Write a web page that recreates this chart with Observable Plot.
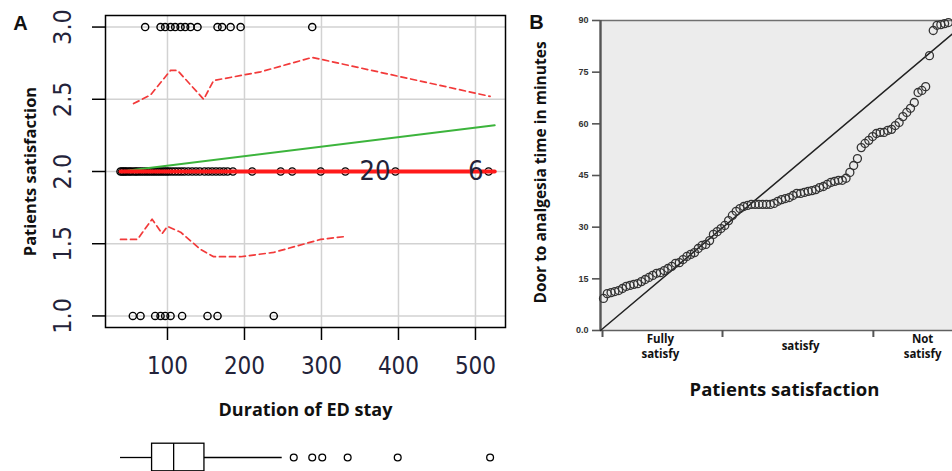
<!DOCTYPE html>
<html>
<head>
<meta charset="utf-8">
<script src="https://cdn.jsdelivr.net/npm/d3@7"></script>
<script src="https://cdn.jsdelivr.net/npm/@observablehq/plot@0.6"></script>
<style>
  html, body { margin: 0; padding: 0; background: #fff; }
  #wrap { position: relative; width: 952px; height: 471px; overflow: hidden; background: #fff; }
  #wrap > svg { position: absolute; overflow: visible; }
</style>
</head>
<body>
<div id="wrap"></div>
<script>
// ---------- Panel A data ----------
const xTicksA = [100, 200, 300, 400, 500];
const yTicksA = [1.0, 1.5, 2.0, 2.5, 3.0];
// Duration of ED stay (minutes) for each satisfaction level
const staySat3 = [71, 91, 97, 104, 110, 117, 123, 130, 139, 165, 171, 182, 195, 288];
const staySat2 = [39, 41, 43, 45, 47, 50, 52, 55, 58, 60, 63, 66, 69, 72, 75, 78, 81, 84, 87, 90, 93, 96, 99, 102, 106, 110, 114, 118, 122, 127, 132, 137, 142, 148, 153, 158, 163, 168, 173, 178, 185, 210, 247, 262, 299, 331, 396, 517];
const staySat1 = [55, 65, 84, 91, 97, 104, 119, 152, 165, 238];
// fitted lines
const linearFitX = [39, 525];
const linearFitY = [2.0, 2.32];
const smoothX = [39, 525];
const smoothY = [2.0, 2.0];
const upperBandX = [56, 78, 104, 113, 147, 160, 221, 288, 519];
const upperBandY = [2.47, 2.53, 2.70, 2.70, 2.50, 2.63, 2.69, 2.79, 2.52];
const lowerBandX = [39, 61, 80, 93, 100, 117, 143, 160, 195, 238, 299, 331];
const lowerBandY = [1.53, 1.53, 1.67, 1.57, 1.62, 1.58, 1.46, 1.41, 1.41, 1.44, 1.53, 1.55];
// identified points
const idLabels = ["20", "6"];
const idStay = [396, 517];
const idSat = [2, 2];
// boxplot of duration
const boxStats = {min: 39, q1: 80, median: 108, q3: 148, max: 249};
const boxOutliers = [264, 288, 301, 334, 399, 519];

// ---------- Panel B data ----------
const yTicksB = [0, 15, 30, 45, 60, 75, 90];
const doorToAnalgesia = [9.3, 10.7, 11.0, 11.3, 11.6, 12.2, 12.8, 13.1, 13.4, 13.6,
  14.2, 14.8, 15.4, 16.0, 16.6, 16.8, 17.4, 18.0, 18.6, 19.5,
  19.7, 20.6, 21.5, 22.1, 22.6, 23.8, 24.7, 25.0, 26.1, 27.9,
  28.7, 29.6, 30.5, 31.9, 33.4, 34.6, 35.4, 36.0, 36.3, 36.6,
  36.6, 36.6, 36.6, 36.6, 36.6, 36.9, 37.5, 38.0, 38.3, 38.6,
  39.2, 39.8, 39.8, 40.1, 40.4, 40.6, 40.9, 41.5, 41.8, 42.4,
  43.0, 43.3, 43.6, 43.6, 44.2, 45.9, 47.9, 49.9, 53.1, 54.3,
  55.2, 56.3, 57.2, 57.5, 57.5, 58.1, 58.4, 59.5, 60.4, 62.1,
  63.3, 64.5, 66.2, 69.1, 69.7, 70.8, 79.8, 87.1, 88.6, 88.8,
  89.1, 89.4];
const diagRank = [0.21, 93.08];
const diagMinutes = [0, 86.1];
const satCategories = [["Fully", "satisfy"], ["satisfy"], ["Not", "satisfy"]];
const satCategoryCenters = [16.0, 53.0, 85.2];
const satCategoryBounds = [0.74, 32.4, 72.2];

// ---------- build tables ----------
const pointsA = [
  ...staySat1.map(x => ({x, y: 1})),
  ...staySat2.map(x => ({x, y: 2})),
  ...staySat3.map(x => ({x, y: 3}))
];
const zip = (xs, ys) => xs.map((x, i) => ({x, y: ys[i]}));
const linearFit = zip(linearFitX, linearFitY);
const smooth = zip(smoothX, smoothY);
const upperBand = zip(upperBandX, upperBandY);
const lowerBand = zip(lowerBandX, lowerBandY);
const idPoints = idLabels.map((t, i) => ({t, x: idStay[i], y: idSat[i]}));
// category label lines: line index and count decide vertical offset
const catLines = satCategories.flatMap((lines, i) =>
  lines.map((t, j) => ({t, x: satCategoryCenters[i], j, n: lines.length})));

const tickFont = "'Liberation Sans Narrow', 'DejaVu Sans Condensed', 'Liberation Sans', Arial, sans-serif";
const titleFont = "'Open Sans', 'Noto Sans', sans-serif";
const tickColor = "#23233a";

const xDomainA = [19.5, 539];

const plotA = Plot.plot({
  width: 520, height: 471,
  marginLeft: 105, marginRight: 15, marginTop: 15, marginBottom: 144,
  x: {domain: xDomainA},
  y: {domain: [0.92, 3.08]},
  style: {background: "transparent", overflow: "visible"},
  marks: [
    Plot.gridX(xTicksA, {stroke: "#d2d2d2", strokeOpacity: 1, strokeWidth: 1.5}),
    Plot.gridY(yTicksA, {stroke: "#d2d2d2", strokeOpacity: 1, strokeWidth: 1.5}),
    Plot.axisX(xTicksA, {tickSize: 13, tickPadding: 16, fontSize: 24, fontFamily: tickFont, fill: tickColor, stroke: "#000", strokeWidth: 1.5, label: null}),
    Plot.axisY(yTicksA, {tickSize: 13, tickFormat: () => "", stroke: "#000", strokeWidth: 1.5, label: null}),
    Plot.text(yTicksA, {y: d => d, text: d => d3.format(".1f")(d), frameAnchor: "left", dx: -43, rotate: -90, textAnchor: "middle", lineAnchor: "middle", fontSize: 25, fontFamily: tickFont, fill: tickColor}),
    Plot.dot(pointsA, {x: "x", y: "y", r: 3.6, stroke: "#000", strokeWidth: 1.4, fill: "none"}),
    Plot.line(linearFit, {x: "x", y: "y", stroke: "#3cb43c", strokeWidth: 2}),
    Plot.line(smooth, {x: "x", y: "y", stroke: "#ff1a1a", strokeWidth: 4}),
    Plot.line(upperBand, {x: "x", y: "y", stroke: "#f23a3a", strokeWidth: 1.7, strokeDasharray: "6,4"}),
    Plot.line(lowerBand, {x: "x", y: "y", stroke: "#f23a3a", strokeWidth: 1.7, strokeDasharray: "6,4"}),
    Plot.text(idPoints, {x: "x", y: "y", text: "t", textAnchor: "end", dx: -5, fontSize: 27, fontFamily: tickFont, fill: tickColor}),
    Plot.frame({stroke: "#000", strokeWidth: 1.5}),
    Plot.text(["Patients satisfaction"], {frameAnchor: "left", dx: -75, rotate: -90, textAnchor: "middle", lineAnchor: "middle", fontSize: 16.5, fontWeight: "bold", fontFamily: titleFont, fill: "#111"}),
    Plot.text(["Duration of ED stay"], {frameAnchor: "bottom", dy: 83, lineAnchor: "middle", fontSize: 18, fontWeight: "bold", fontFamily: titleFont, fill: "#111"}),
    Plot.text(["A"], {frameAnchor: "top-left", dx: -85, dy: 8, textAnchor: "middle", lineAnchor: "middle", fontSize: 20, fontWeight: "bold", fontFamily: "'Liberation Sans', Arial, sans-serif", fill: "#111"})
  ]
});
plotA.style.left = "0px";
plotA.style.top = "0px";

const plotBox = Plot.plot({
  width: 520, height: 60,
  marginLeft: 105, marginRight: 15, marginTop: 0, marginBottom: 0,
  x: {domain: xDomainA, axis: null},
  y: {domain: [-1, 1], axis: null},
  style: {background: "transparent", overflow: "visible"},
  marks: [
    Plot.ruleY([0], {x1: boxStats.min, x2: boxStats.q1, stroke: "#000", strokeWidth: 1.3}),
    Plot.ruleY([0], {x1: boxStats.q3, x2: boxStats.max, stroke: "#000", strokeWidth: 1.3}),
    Plot.rect([boxStats], {x1: "q1", x2: "q3", y1: -0.46, y2: 0.46, fill: "#fff", stroke: "#000", strokeWidth: 1.3}),
    Plot.ruleX([boxStats.median], {y1: -0.46, y2: 0.46, stroke: "#000", strokeWidth: 1.3}),
    Plot.dot(boxOutliers, {x: d => d, y: 0, r: 3.4, stroke: "#000", strokeWidth: 1.3, fill: "none"})
  ]
});
plotBox.style.left = "0px";
plotBox.style.top = "427px";

const catText = (filter, dy) => Plot.text(catLines.filter(filter), {x: "x", text: "t", frameAnchor: "bottom", dy, lineAnchor: "middle", fontSize: 11.5, fontWeight: "bold", fontFamily: titleFont, fill: "#111"});

const plotB = Plot.plot({
  width: 432, height: 471,
  marginLeft: 80, marginRight: 0, marginTop: 20, marginBottom: 141,
  x: {domain: [0.21, 93.08]},
  y: {domain: [0, 90]},
  style: {background: "transparent", overflow: "visible"},
  marks: [
    Plot.frame({fill: "#ececec", stroke: "none"}),
    Plot.ruleY([90], {stroke: "#707070", strokeWidth: 1.6}),
    Plot.ruleY([0], {stroke: "#606060", strokeWidth: 1.6}),
    Plot.axisY(yTicksB, {tickSize: 8, tickPadding: 4, fontSize: 9, fontWeight: "bold", fontFamily: "'Liberation Sans', Arial, sans-serif", fill: "#333", stroke: "#555", strokeWidth: 1.6, tickFormat: d => d === 0 ? "0.0" : String(d), label: null}),
    Plot.axisX(satCategoryBounds, {tickSize: 7, tickFormat: () => "", stroke: "#555", strokeWidth: 2, label: null}),
    Plot.ruleX([0.21], {stroke: "#555", strokeWidth: 2.4}),
    Plot.line(zip(diagRank, diagMinutes), {x: "x", y: "y", stroke: "#222", strokeWidth: 1.5}),
    Plot.dot(doorToAnalgesia, {x: (d, i) => i + 1, y: d => d, r: 4, stroke: "#333", strokeWidth: 1.3, fill: "none"}),
    catText(d => d.n === 2 && d.j === 0, 8.5),
    catText(d => d.n === 2 && d.j === 1, 23.5),
    catText(d => d.n === 1, 16),
    Plot.text(["Door to analgesia time in minutes"], {frameAnchor: "left", dx: -59, dy: -3, rotate: -90, textAnchor: "middle", lineAnchor: "middle", fontSize: 15.5, fontWeight: "bold", fontFamily: titleFont, fill: "#111"}),
    Plot.text(["Patients satisfaction"], {frameAnchor: "bottom", dx: 8, dy: 60, lineAnchor: "middle", fontSize: 18.5, fontWeight: "bold", fontFamily: titleFont, fill: "#111"}),
    Plot.text(["B"], {frameAnchor: "top-left", dx: -64, dy: 2, textAnchor: "middle", lineAnchor: "middle", fontSize: 20, fontWeight: "bold", fontFamily: "'Liberation Sans', Arial, sans-serif", fill: "#111"})
  ]
});
plotB.style.left = "520px";
plotB.style.top = "0px";

const wrap = document.getElementById("wrap");
wrap.appendChild(plotA);
wrap.appendChild(plotBox);
wrap.appendChild(plotB);
</script>
</body>
</html>
